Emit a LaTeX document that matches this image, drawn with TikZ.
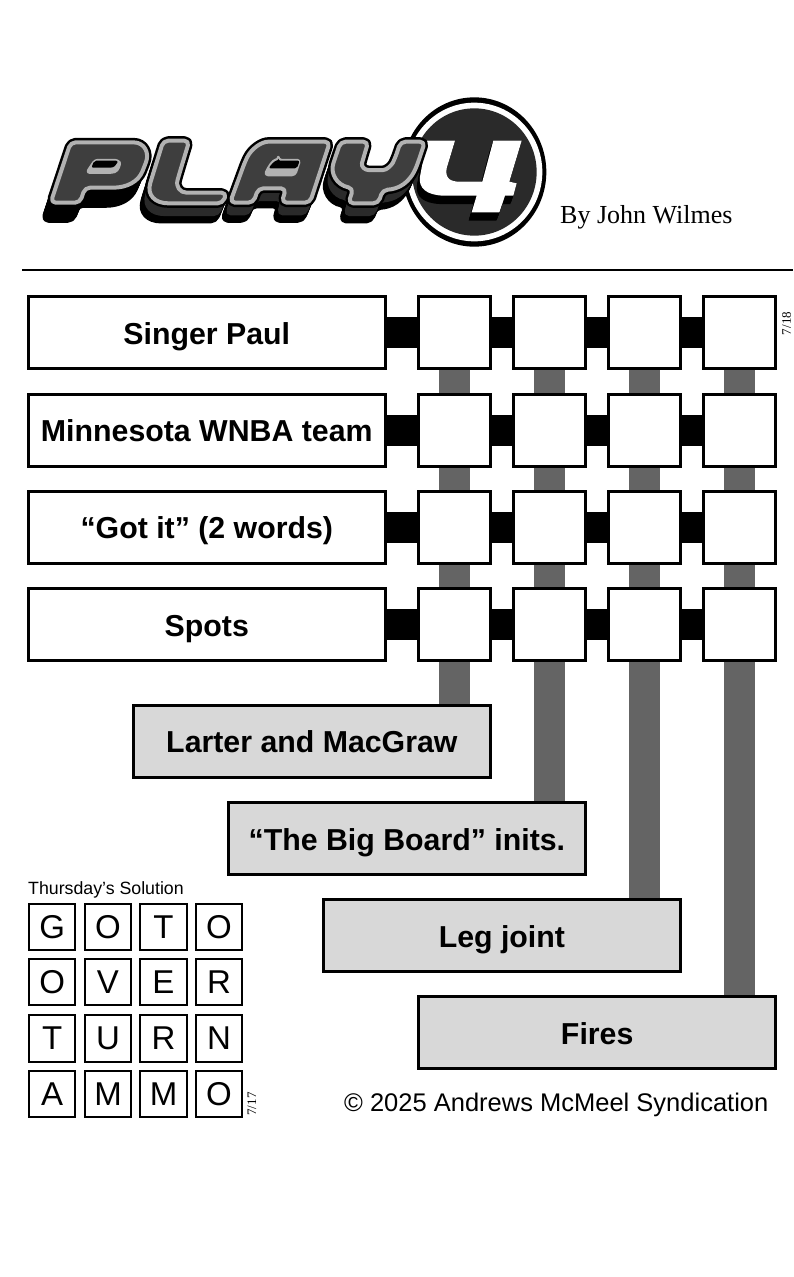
\documentclass[tikz,border=0pt]{standalone}
\usepackage{fontspec}
\setmainfont{Liberation Sans}
\newfontfamily\serifx{Liberation Serif}
\usetikzlibrary{backgrounds}
\definecolor{bargrey}{HTML}{646464}
\definecolor{cluegrey}{HTML}{D8D8D8}
\definecolor{logodark}{HTML}{3E3E3E}
\definecolor{logolight}{HTML}{B2B2B2}
\definecolor{circdark}{HTML}{2A2A2A}
\newcommand{\lP}{(200,52) -- (295,52) .. controls (345,52) and (358,85) .. (343,125) .. controls (325,170) and (290,188) .. (235,188) -- (165,188) -- (150,233) -- (62,233) -- (122,52) -- cycle}
\newcommand{\lPc}{(195,105) -- (262,105) .. controls (272,115) and (265,138) .. (245,143) -- (170,143) -- cycle}
\newcommand{\lPd}{(193,107) -- (264,107) .. controls (260,120) and (250,127) .. (240,128) -- (184,128) -- cycle}
\newcommand{\lL}{(440,47) -- (478,47) -- (447,150) .. controls (437,185) and (450,203) .. (485,203) -- (590,203) -- (578,235) -- (430,235) .. controls (375,235) and (350,210) .. (365,160) -- (400,47) -- cycle}
\newcommand{\lA}{(800,50) -- (900,50) -- (840,233) -- (755,233) -- (768,190) -- (685,190) -- (670,233) -- (600,233) -- (645,110) .. controls (665,70) and (695,50) .. (730,50) -- cycle}
\newcommand{\lAc}{(745,105) -- (810,105) -- (795,150) -- (705,150) .. controls (715,125) and (730,105) .. (745,105) -- cycle}
\newcommand{\lAd}{(745,107) -- (809,107) -- (801,130) -- (716,130) .. controls (724,118) and (735,107) .. (745,107) -- cycle}
\newcommand{\lY}{(970,50) -- (1015,50) -- (1000,100) .. controls (993,125) and (1005,135) .. (1030,135) -- (1045,135) .. controls (1070,135) and (1085,120) .. (1095,100) -- (1112,50) -- (1185,50) -- (1165,110) .. controls (1140,175) and (1105,192) .. (1058,195) -- (1045,235) -- (955,235) -- (970,190) .. controls (920,180) and (900,145) .. (915,100) -- (932,50) -- cycle}
\newcommand{\lF}{(1230,47) -- (1275,47) -- (1250,130) .. controls (1245,160) and (1260,170) .. (1290,170) -- (1357,170) -- (1390,47) -- (1475,47) -- (1438,170) -- (1460,175) -- (1450,212) -- (1425,212) -- (1408,262) -- (1325,262) -- (1340,212) -- (1240,212) .. controls (1190,210) and (1165,190) .. (1170,155) -- (1190,47) -- cycle}
\tikzset{
  labelbox/.style={draw=black,line width=3pt,fill=white,minimum width=356.7pt,minimum height=72pt,inner sep=0pt,text height=23.6pt,text depth=0pt,font=\fontsize{30.3}{30.3}\selectfont\bfseries},
  cluebox/.style={labelbox,fill=cluegrey},
  cellbox/.style={draw=black,line width=3pt,fill=white,minimum width=72pt,minimum height=72pt,inner sep=0pt},
  solbox/.style={draw=black,line width=2pt,fill=white,minimum width=46.5pt,minimum height=46.5pt,inner sep=0pt,font=\fontsize{33}{33}\selectfont},
  hbar/.style={draw=black,line width=31pt},
  vbar/.style={draw=bargrey,line width=31pt},
  plain/.style={inner sep=0pt}
}
\begin{document}
\begin{tikzpicture}[x=1pt,y=-1pt]
\useasboundingbox (0,0) rectangle (793,1277);
% logo
\begin{scope}[shift={(30,125)},x=0.33333pt,y=-0.33333pt,line join=round]
  \fill[black] (1333,141) ellipse [x radius=216,y radius=224];
  \fill[white] (1333,141) ellipse [x radius=204,y radius=208];
  \fill[circdark] (1333,141) ellipse [x radius=187,y radius=191];
  \foreach \d in {0,1,...,9}{
    \begin{scope}[shift={({-1*\d},{2.8*\d})}]
      \fill[black] \lF;
    \end{scope}}
  \fill[white] \lF;
  \foreach \d in {0,1,...,12}{
    \begin{scope}[shift={({-1.8*\d},{4.4*\d})}]
      \foreach \p in {\lP,\lL,\lA,\lY}{\draw[black,fill=black,line width=5pt,rounded corners=5pt] \p;}
    \end{scope}}
  \foreach \d in {0,1,...,8}{
    \begin{scope}[shift={({-1.5*\d},{4.4*\d})}]
      \foreach \p in {\lL,\lA,\lY}{\draw[circdark,fill=circdark,line width=2pt,rounded corners=5pt] \p;}
    \end{scope}}
  \foreach \p in {\lP,\lL,\lA,\lY}{\draw[black,line width=9pt,rounded corners=5pt] \p;}
  \foreach \p in {\lP,\lL,\lA,\lY}{\draw[logolight,fill=logodark,line width=4pt,rounded corners=5pt] \p;}
  \foreach \p in {\lPc,\lAc}{\draw[logolight,fill=logolight,line width=2.5pt,rounded corners=3pt] \p;}
  \foreach \p in {\lPd,\lAd}{\fill[black,rounded corners=2pt] \p;}
\end{scope}
\node[plain,anchor=base west,font=\serifx\fontsize{26}{26}\selectfont] (byline) at (560,223) {By John Wilmes};
\draw[black,line width=2pt] (22,269.5) -- (793,269.5);
% label boxes
\node[labelbox] (l1) at (206.8,332.5) {Singer Paul};
\node[labelbox] (l2) at (206.8,430) {Minnesota WNBA team};
\node[labelbox] (l3) at (206.8,527) {“Got it” (2 words)};
\node[labelbox] (l4) at (206.8,624.2) {Spots};
% grid cells
\foreach \r/\y in {1/332.5,2/430,3/527,4/624.2}{
  \foreach \c/\x in {1/454.2,2/549.2,3/644.2,4/739.5}{
    \node[cellbox] (c\r\c) at (\x,\y) {};
  }
}
% clue boxes
\node[cluebox] (k1) at (311.9,741) {Larter and MacGraw};
\node[cluebox] (k2) at (406.9,838.5) {“The Big Board” inits.};
\node[cluebox] (k3) at (501.9,935.5) {Leg joint};
\node[cluebox] (k4) at (597.2,1032.5) {Fires};
% connectors
\begin{scope}[on background layer]
  \foreach \r in {1,2,3,4}{
    \draw[hbar] (l\r.east) -- (c\r1.west);
    \draw[hbar] (c\r1.east) -- (c\r2.west);
    \draw[hbar] (c\r2.east) -- (c\r3.west);
    \draw[hbar] (c\r3.east) -- (c\r4.west);
  }
  \foreach \c in {1,2,3,4}{
    \draw[vbar] (c1\c.south) -- (c2\c.north);
    \draw[vbar] (c2\c.south) -- (c3\c.north);
    \draw[vbar] (c3\c.south) -- (c4\c.north);
    \draw[vbar] (c4\c.south) -- (c4\c.south |- k\c.north);
  }
\end{scope}
\node[plain,rotate=90,font=\serifx\fontsize{13}{13}\selectfont] (d1) at (786.5,323.5) {7/18};
% solution
\node[plain,anchor=base west,font=\fontsize{17.75}{17.75}\selectfont] (soltitle) at (28,894.5) {Thursday's Solution};
\foreach \r/\y/\row in {1/927/{G,O,T,O},2/982/{O,V,E,R},3/1038.5/{T,U,R,N},4/1094/{A,M,M,O}}{
  \foreach \c/\x [count=\i] in {1/52.2,2/108,3/163.5,4/219}{
    \foreach \ch [count=\j] in \row {
      \ifnum\j=\i
        \node[solbox] (s\r\c) at (\x,\y) {\ch};
      \fi
    }
  }
}
\node[plain,rotate=90,font=\serifx\fontsize{13}{13}\selectfont] (d2) at (252,1104) {7/17};
\node[plain,anchor=base west,font=\fontsize{25.5}{25.5}\selectfont] (copy) at (344,1111.5) {© 2025 Andrews McMeel Syndication};
\end{tikzpicture}
\end{document}
